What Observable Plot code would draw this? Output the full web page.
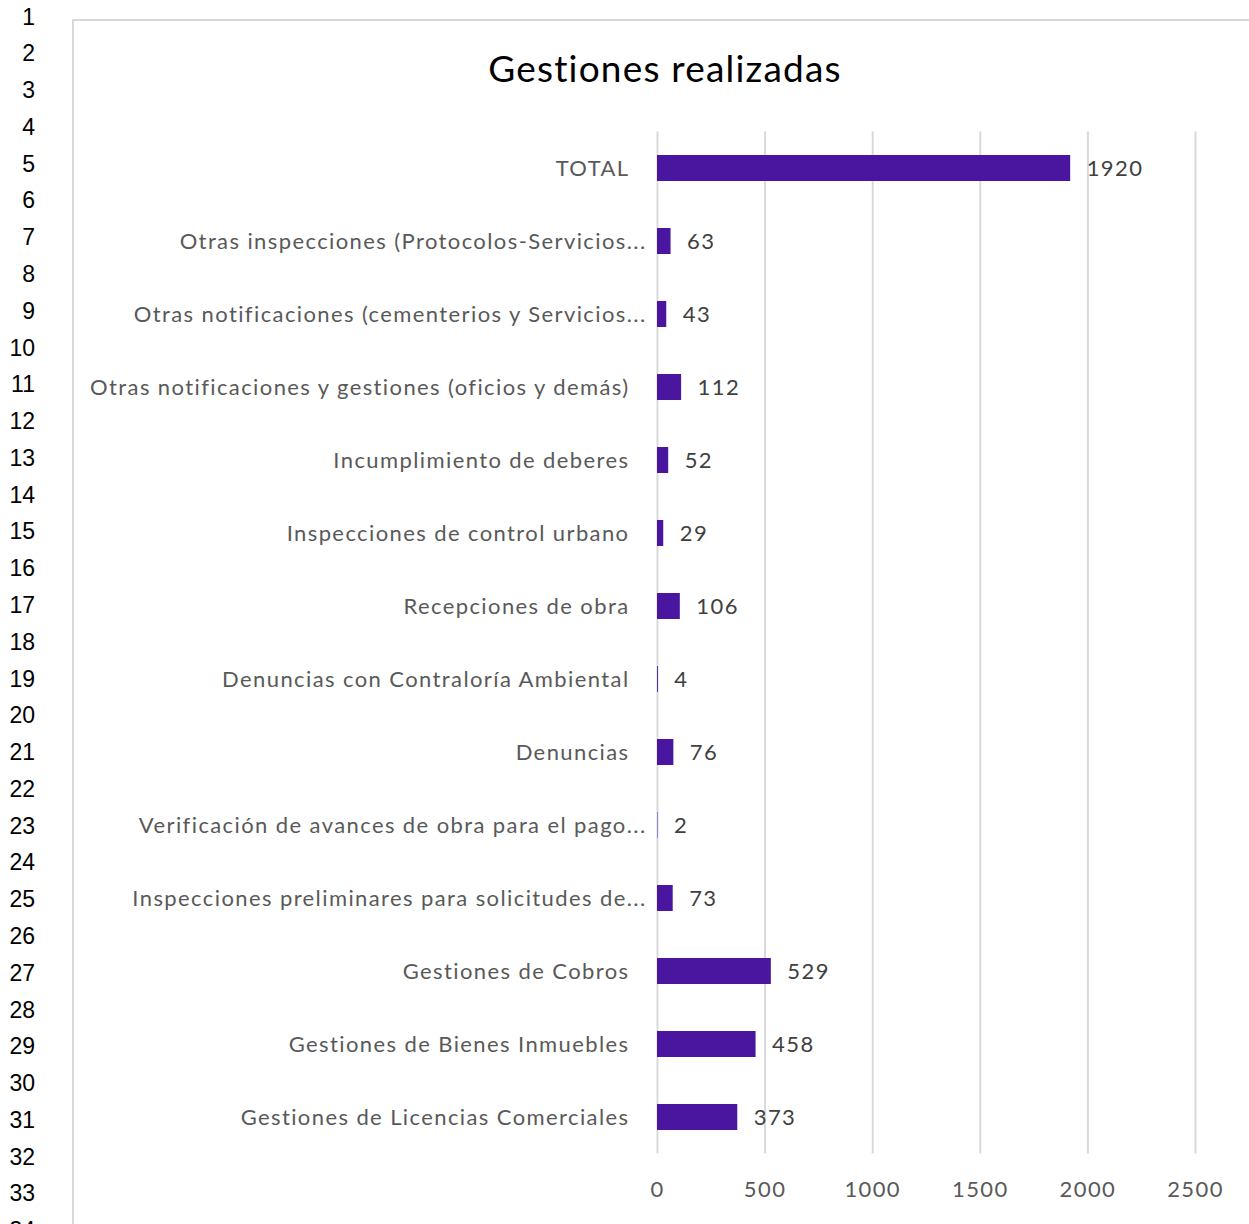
<!DOCTYPE html>
<html>
<head>
<meta charset="utf-8">
<script src="https://cdn.jsdelivr.net/npm/d3@7"></script>
<script src="https://cdn.jsdelivr.net/npm/@observablehq/plot@0.6"></script>
<style>
  html, body { margin: 0; padding: 0; background: #fff; }
  #page { position: relative; width: 1249px; height: 1224px; overflow: hidden; background: #fff; }
  .row { position: absolute; left: 0; width: 35px; text-align: right; font-family: "Liberation Sans", sans-serif; font-size: 23px; color: #000; line-height: 1; }
  #frame { position: absolute; left: 72px; top: 19px; width: 1300px; height: 1300px; border-left: 2px solid #d9d9d9; border-top: 2px solid #d9d9d9; box-sizing: border-box; }
  #title { position: absolute; left: 72px; width: 1186px; top: 48px; text-align: center; font-family: "Lato", sans-serif; font-size: 37px; letter-spacing: 1.2px; color: #000; line-height: 1.1; }
  #chart { position: absolute; left: 0; top: 0; }
  #chart svg text { letter-spacing: 1.4px; }
</style>
</head>
<body>
<div id="page">
  <div id="frame"></div>
  <div id="title">Gestiones realizadas</div>
  <div id="chart"></div>
</div>
<script>
const categories = [
  "TOTAL",
  "Otras inspecciones (Protocolos-Servicios...",
  "Otras notificaciones (cementerios y Servicios...",
  "Otras notificaciones y gestiones (oficios y demás)",
  "Incumplimiento de deberes",
  "Inspecciones de control urbano",
  "Recepciones de obra",
  "Denuncias con Contraloría Ambiental",
  "Denuncias",
  "Verificación de avances de obra para el pago...",
  "Inspecciones preliminares para solicitudes de...",
  "Gestiones de Cobros",
  "Gestiones de Bienes Inmuebles",
  "Gestiones de Licencias Comerciales"
];
const values = [1920, 63, 43, 112, 52, 29, 106, 4, 76, 2, 73, 529, 458, 373];
const xTicks = [0, 500, 1000, 1500, 2000, 2500];
const rowNumbers = d3.range(1, 35);

const page = document.getElementById("page");
rowNumbers.forEach((n, i) => {
  const d = document.createElement("div");
  d.className = "row";
  d.textContent = String(n);
  d.style.top = (17 + i * 36.78 - 11.5) + "px";
  page.appendChild(d);
});

const data = categories.map((c, i) => ({category: c, value: values[i]}));
const truncated = d => d.category.endsWith("...");

const chart = Plot.plot({
  width: 1249,
  height: 1224,
  marginLeft: 657,
  marginRight: 54,
  marginTop: 131.5,
  marginBottom: 70.5,
  style: {fontFamily: "Lato, sans-serif", background: "transparent"},
  x: {domain: [0, 2500], axis: null},
  y: {domain: categories, axis: null, paddingInner: 0.644, paddingOuter: 0.322},
  marks: [
    Plot.ruleX(xTicks, {stroke: "#d9d9d9", strokeWidth: 2}),
    Plot.barX(data, {x: "value", y: "category", fill: "#4a16a0"}),
    Plot.text(data, {x: "value", y: "category", text: d => String(d.value), dx: 16, textAnchor: "start", fontSize: 22, fill: "#404040"}),
    Plot.text(data.filter(d => !truncated(d)), {x: 0, y: "category", text: "category", dx: -28, textAnchor: "end", fontSize: 22, fill: "#595959"}),
    Plot.text(data.filter(truncated), {x: 0, y: "category", text: "category", dx: -11, textAnchor: "end", fontSize: 22, fill: "#595959"}),
    Plot.axisX({ticks: xTicks, tickSize: 0, tickPadding: 27, fontSize: 22, color: "#595959", label: null, tickFormat: d => String(d)})
  ]
});
document.getElementById("chart").appendChild(chart);
</script>
</body>
</html>
